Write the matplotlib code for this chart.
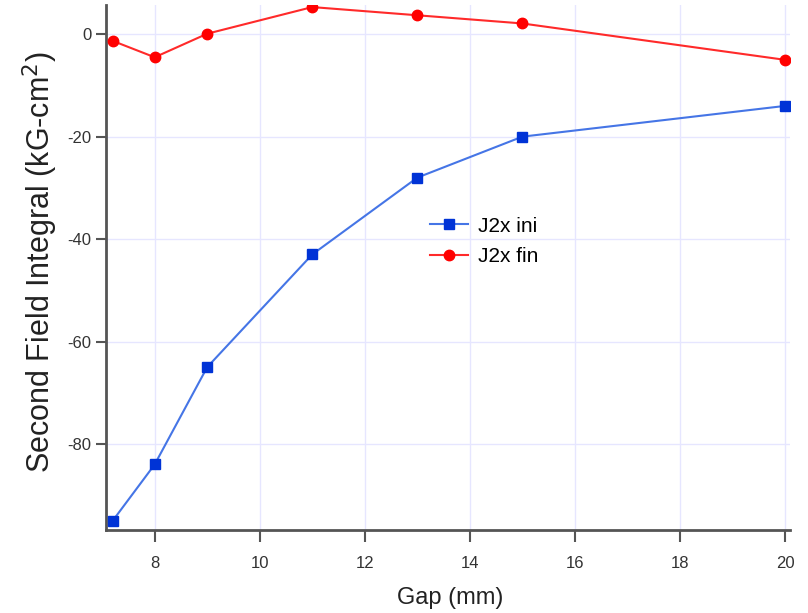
import matplotlib
matplotlib.use("Agg")
import matplotlib.pyplot as plt

gap = [7.2, 8, 9, 11, 13, 15, 20]
j2x_ini = [-95.0, -84.0, -65.0, -43.0, -28.0, -20.0, -14.0]
j2x_fin = [-1.3, -4.5, 0.1, 5.3, 3.7, 2.1, -5.0]
xticks = [8, 10, 12, 14, 16, 18, 20]
yticks = [0, -20, -40, -60, -80]

plt.rcParams['font.family'] = ['Liberation Sans', 'DejaVu Sans']
plt.rcParams['axes.unicode_minus'] = False

fig = plt.figure(figsize=(8.08, 6.13), dpi=100)
ax = fig.add_axes([0.131, 0.1354, 0.847, 0.8564])

ax.plot(gap, j2x_ini, color='#4575e6', lw=1.5, marker='s', ms=7.5,
        mfc='#0033d6', mec='#0033d6', label='J2x ini', zorder=3)
ax.plot(gap, j2x_fin, color='#ff2a2a', lw=1.5, marker='o', ms=7.5,
        mfc='#ff0000', mec='#ff0000', label='J2x fin', zorder=3)

ax.set_xlim(7.07, 20.1)
ax.set_ylim(-96.8, 5.7)
ax.set_xticks(xticks)
ax.set_yticks(yticks)
ax.grid(True, color='#e6e6ff', lw=1)
ax.set_axisbelow(True)

for s in ['top', 'right']:
    ax.spines[s].set_visible(False)
for s in ['left', 'bottom']:
    ax.spines[s].set_color('#555555')
    ax.spines[s].set_linewidth(2)
ax.tick_params(axis='x', direction='out', length=8.5, width=1.5, color='#555555',
               labelsize=12, labelcolor='#333333', pad=10)
ax.tick_params(axis='y', direction='out', length=7, width=1.5, color='#555555',
               labelsize=12, labelcolor='#333333', pad=3.5)

ax.set_xlabel('Gap (mm)', fontsize=17, color='#222222', va='center')
ax.xaxis.set_label_coords(0.503, -0.129)
ax.set_ylabel('Second Field Integral (kG-cm$^2$)', fontsize=22,
              color='#222222', va='center')
ax.yaxis.set_label_coords(-0.0965, 0.51)

ax.legend(loc='upper left', bbox_to_anchor=(0.474, 0.597), frameon=False,
          fontsize=15, handlelength=1.8, handletextpad=0.5, labelspacing=0.55,
          borderaxespad=0, borderpad=0)

fig.savefig('out.png', dpi=100)
